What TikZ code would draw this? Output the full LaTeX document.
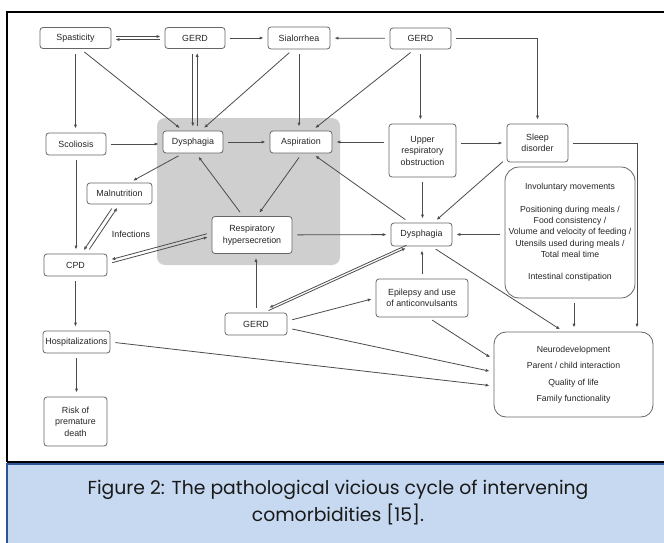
\documentclass[tikz,border=0pt]{standalone}
\usepackage{fontspec}
\setmainfont{Liberation Sans}
\newfontfamily\capfont{Poppins}
\usetikzlibrary{arrows.meta}

\definecolor{capfill}{RGB}{198,217,240}
\definecolor{capline}{RGB}{47,84,150}
\definecolor{cyclegray}{RGB}{207,207,207}

\tikzset{
  box/.style={draw=black!60, line width=0.8pt, rounded corners=3pt, fill=white, align=center,
    font=\fontsize{8.9}{11.5}\selectfont, text=black!85, inner sep=1pt},
  sz/.style 2 args={minimum width=#1, minimum height=#2},
  arr/.style={draw=black!70, line width=0.8pt, -{Latex[length=4pt,width=3.2pt]},
    shorten >=4pt, shorten <=5pt},
  lbl/.style={font=\fontsize{8.9}{11}\selectfont, text=black!85, inner sep=0pt},
}

\begin{document}
\begin{tikzpicture}[x=1pt,y=-1pt]
\useasboundingbox (0,0) rectangle (664,543);

% frame and caption
\fill[white] (0,0) rectangle (664,543);
\draw[line width=2pt] (7,462) -- (7,12) -- (670,12);
\draw[line width=1.5pt] (7,462) -- (670,462);
\draw[capline, fill=capfill, line width=1.5pt] (7,548) -- (7,464) -- (670,464) -- (670,548) -- cycle;
\node[font=\capfont\fontsize{18.8}{27}\selectfont, text=black!90, align=center] (cap) at (338,503)
  {Figure 2: The pathological vicious cycle of intervening\\comorbidities [15].};

% the vicious cycle
\fill[cyclegray, rounded corners=8pt] (157,118) rectangle (340,265);

% nodes
\node[box, sz={71}{21}] (spas) at (75.5,38) {Spasticity};
\node[box, sz={60}{21}] (gerdA) at (195,38) {GERD};
\node[box, sz={62}{22}] (sial) at (299,38) {Sialorrhea};
\node[box, sz={61}{21}] (gerdB) at (420.5,38.5) {GERD};
\node[box, sz={60}{22}] (scol) at (76,144) {Scoliosis};
\node[box, sz={60}{22}] (dysA) at (193,142) {Dysphagia};
\node[box, sz={62}{22}] (asp) at (301,142) {Aspiration};
\node[box, sz={67}{53}] (uro) at (422.5,150.5) {Upper\\respiratory\\obstruction};
\node[box, sz={61}{38}] (sleep) at (537.5,143) {Sleep\\disorder};
\node[box, sz={65}{21}] (maln) at (119.5,193.5) {Malnutrition};
\node[box, sz={80}{37}] (resp) at (252,235) {Respiratory\\hypersecretion};
\node[box, sz={63}{22}] (cpd) at (75.5,265) {CPD};
\node[box, sz={61}{23}] (dysB) at (421.5,234.5) {Dysphagia};
\node[box, sz={130}{131}, rounded corners=14pt, font=\fontsize{8.7}{11.3}\selectfont] (inv) at (570,232.5)
  {Involuntary movements\\[11.3pt]Positioning during meals /\\Food consistency /\\Volume and velocity of feeding /\\Utensils used during meals /\\Total meal time\\[11.3pt]Intestinal constipation};
\node[box, sz={92}{38}] (epi) at (422,298) {Epilepsy and use\\of anticonvulsants};
\node[box, sz={62}{22}] (gerdC) at (256,324) {GERD};
\node[box, sz={67}{22}] (hosp) at (76.5,342) {Hospitalizations};
\node[box, sz={63}{49}] (risk) at (75.5,421.5) {Risk of\\premature\\death};
\node[box, sz={159}{85}, rounded corners=12pt, font=\fontsize{8.7}{11.3}\selectfont] (out) at (573.5,374.5)
  {Neurodevelopment\\[5.2pt]Parent / child interaction\\[5.2pt]Quality of life\\[5.2pt]Family functionality};
\node[lbl] (inf) at (131,234) {Infections};

% top row
\draw[arr] ([yshift=1.5]spas.east) -- ([yshift=1.5]gerdA.west);
\draw[arr] ([yshift=-1.5]gerdA.west) -- ([yshift=-1.5]spas.east);
\draw[arr] (gerdA) -- (sial);
\draw[arr] (gerdB) -- (sial);
\draw[arr] (gerdB.east) -| (sleep.north);
\draw[arr] (gerdB.south) -- (gerdB.south |- uro.north);
\draw[arr] ([xshift=-6]gerdB.south) -- ([xshift=11]asp.north);
\draw[arr] (spas.south) -- (spas.south |- scol.north);
\draw[arr] ([xshift=5]spas.south) -- ([xshift=-10]dysA.north);
\draw[arr] ([xshift=-2.2]gerdA.south) -- ([xshift=-2.2]gerdA.south |- dysA.north);
\draw[arr] ([xshift=2.2]gerdA.south |- dysA.north) -- ([xshift=2.2]gerdA.south);
\draw[arr] ([xshift=-6]sial.south) -- ([xshift=8]dysA.north);
\draw[arr] (sial.south) -- (sial.south |- asp.north);

% middle row
\draw[arr] (scol.east) -- (scol.east -| dysA.west);
\draw[arr] (dysA) -- (asp);
\draw[arr] (uro.west |- asp) -- (asp.east);
\draw[arr] (uro.east |- sleep) -- (sleep.west);
\draw[arr] (uro.south) -- (uro.south |- dysB.north);
\draw[arr] ([yshift=4]sleep.south west) -- ([xshift=12]dysB.north);
\draw[arr] (sleep.east) -| ([xshift=63.5]out.north);
\draw[arr] (scol.south) -- (scol.south |- cpd.north);
\draw[arr] ([xshift=-10]dysA.south) -- ([xshift=10]maln.north);
\draw[arr] ([xshift=-5]maln.south) -- ([xshift=6]cpd.north);
\draw[arr] ([xshift=11]cpd.north) -- ([xshift=0]maln.south);
\draw[arr] ([yshift=2.5]resp.west) -- ([yshift=4.5]cpd.east);
\draw[arr] ([yshift=1]cpd.east) -- ([yshift=-1]resp.west);
\draw[arr] ([xshift=-9]resp.north) -- ([xshift=3]dysA.south);
\draw[arr] ([xshift=1]asp.south) -- ([xshift=5]resp.north);
\draw[arr] (resp) -- (dysB);
\draw[arr] ([xshift=-12]dysB.north) -- ([xshift=11]asp.south);
\draw[arr] (inv.west |- dysB) -- (dysB.east);

% lower part
\draw[arr] ([xshift=4]inv.south) -- ([xshift=4]inv.south |- out.north);
\draw[arr] ([xshift=10]dysB.south) -- ([xshift=-10]out.north);
\draw[arr] (epi.north) -- (epi.north |- dysB.south);
\draw[arr] ([xshift=8]gerdC.north) -- ([xshift=-12]dysB.south);
\draw[arr] ([shift={(-10.5,-3.2)}]dysB.south) -- ([shift={(9.5,-3.2)}]gerdC.north);
\draw[arr] (gerdC.north) -- (gerdC.north |- resp.south);
\draw[arr] ([yshift=3]gerdC.east) -- (epi.west);
\draw[arr] ([yshift=-4]gerdC.east) -- ([yshift=2.5]out.west);
\draw[arr] ([xshift=6]epi.south) -- ([yshift=15]out.west);
\draw[arr] (hosp.east) -- ([yshift=-11.5]out.west);
\draw[arr] (cpd.south) -- (cpd.south |- hosp.north);
\draw[arr] (hosp.south) -- (hosp.south |- risk.north);
\end{tikzpicture}
\end{document}
